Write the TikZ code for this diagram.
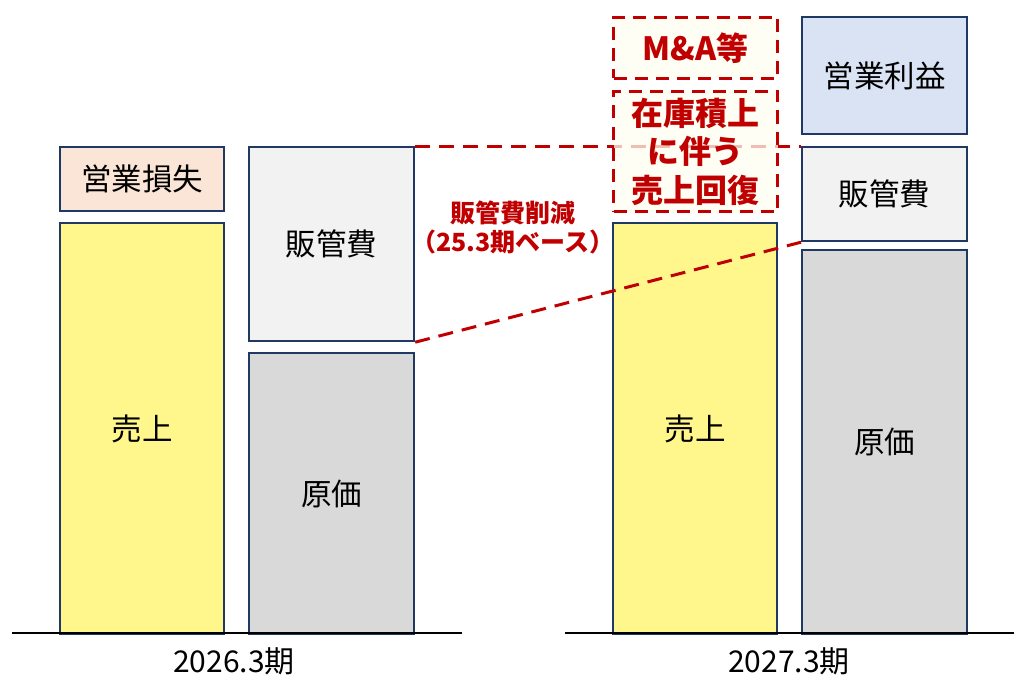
\documentclass[tikz,border=0pt]{standalone}
\usepackage{fontspec}
\setmainfont{Noto Sans CJK JP}
\newfontfamily\jp{Noto Sans CJK JP}
\usetikzlibrary{positioning}
\definecolor{navy}{HTML}{1F3864}
\definecolor{dred}{HTML}{C00000}
\definecolor{cyellow}{HTML}{FFF78C}
\definecolor{cpeach}{HTML}{FBE5D6}
\definecolor{clgray}{HTML}{F2F2F2}
\definecolor{cgray}{HTML}{D9D9D9}
\definecolor{cblue}{HTML}{DAE3F3}
\definecolor{ccream}{HTML}{FFFEF0}
\tikzset{
  x=1pt, y=-1pt,
  bar/.style={draw=navy, line width=2.2pt, anchor=north west, inner sep=0pt,
    font=\jp\fontsize{30.5}{34}\selectfont, text=black, align=center},
  dbox/.style={draw=dred, line width=3pt, dash pattern=on 13pt off 8pt,
    anchor=north west, inner sep=0pt, fill=ccream, fill opacity=0.75, text opacity=1,
    font=\jp\bfseries\fontsize{32}{38.5}\selectfont, text=dred, align=center},
  redline/.style={draw=dred, line width=3pt, dash pattern=on 15pt off 9pt},
  axis/.style={draw=black, line width=1.3pt},
  year/.style={font=\jp\fontsize{30}{34}\selectfont, text=black},
  note/.style={font=\jp\bfseries\fontsize{25}{29}\selectfont, text=dred, align=center}
}
\begin{document}
\begin{tikzpicture}
\useasboundingbox (0,0) rectangle (1024,682);
% axes
\coordinate (a1) at (12,633);
\coordinate (a2) at (462,633);
\coordinate (b1) at (565,633);
\coordinate (b2) at (1014,633);
% left group
\node[bar, fill=cyellow, minimum width=164pt, minimum height=411pt] (ls) at (59,222) {売上};
\node[bar, fill=cpeach, minimum width=164pt, minimum height=64pt] (ll) at (59,146) {営業損失};
\node[bar, fill=clgray, minimum width=165pt, minimum height=194pt] (lh) at (248,146) {販管費};
\node[bar, fill=cgray, minimum width=165pt, minimum height=281pt] (lg) at (248,352) {原価};
% right group
\node[bar, fill=cyellow, minimum width=164pt, minimum height=411pt] (rs) at (612,222) {売上};
\node[bar, fill=cblue, minimum width=165pt, minimum height=117pt] (rp) at (801,16) {営業利益};
\node[bar, fill=clgray, minimum width=165pt, minimum height=94pt] (rh) at (801,146) {販管費};
\node[bar, fill=cgray, minimum width=165pt, minimum height=384pt] (rg) at (801,249) {原価};
% dashed connectors
\draw[redline] (lh.north east) -- (rh.north west);
\draw[redline] (lh.south east) -- (rh.south west);
% dashed boxes
\node[dbox, minimum width=164pt, minimum height=120pt] (rz) at (612,90) {在庫積上\\に伴う\\売上回復};
\node[dbox, minimum width=164pt, minimum height=61pt] (rm) at (612,16) {M\&A等};
% note
\node[note] (nt) at (513,227) {販管費削減\\（25.3期ベース）};
% axes
\draw[axis] (a1) -- (a2);
\draw[axis] (b1) -- (b2);
\node[year] (y1) at (234,661) {2026.3期};
\node[year] (y2) at (789,661) {2027.3期};
\end{tikzpicture}
\end{document}
